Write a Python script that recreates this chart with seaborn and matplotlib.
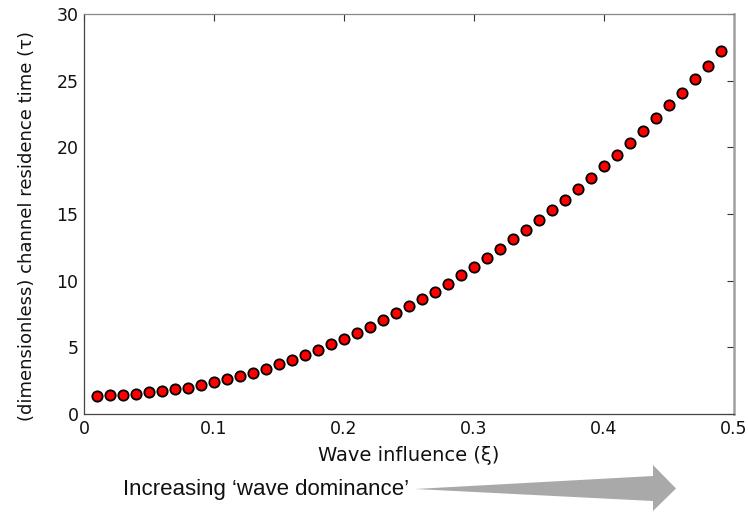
import numpy as np
import pandas as pd
import matplotlib
matplotlib.use("Agg")
import matplotlib.pyplot as plt
from matplotlib.patches import Polygon
import seaborn as sns

# wave influence (xi) and dimensionless channel residence time (tau)
xi = [0.01, 0.02, 0.03, 0.04, 0.05, 0.06, 0.07, 0.08, 0.09, 0.10,
      0.11, 0.12, 0.13, 0.14, 0.15, 0.16, 0.17, 0.18, 0.19, 0.20,
      0.21, 0.22, 0.23, 0.24, 0.25, 0.26, 0.27, 0.28, 0.29, 0.30,
      0.31, 0.32, 0.33, 0.34, 0.35, 0.36, 0.37, 0.38, 0.39, 0.40,
      0.41, 0.42, 0.43, 0.44, 0.45, 0.46, 0.47, 0.48, 0.49]
tau = [1.35, 1.40, 1.45, 1.52, 1.62, 1.72, 1.85, 1.98, 2.15, 2.38,
       2.60, 2.85, 3.10, 3.40, 3.72, 4.08, 4.45, 4.83, 5.22, 5.65,
       6.10, 6.55, 7.03, 7.55, 8.08, 8.60, 9.17, 9.77, 10.40, 11.05,
       11.70, 12.40, 13.10, 13.80, 14.55, 15.30, 16.05, 16.90, 17.70, 18.58,
       19.40, 20.30, 21.25, 22.20, 23.15, 24.10, 25.10, 26.10, 27.20]

x_ticks = [0, 0.1, 0.2, 0.3, 0.4, 0.5]
x_ticklabels = ["0", "0.1", "0.2", "0.3", "0.4", "0.5"]
y_ticks = [0, 5, 10, 15, 20, 25, 30]

df = pd.DataFrame({"xi": xi, "tau": tau})

sns.set_style("white")
plt.rcParams["font.family"] = ["DejaVu Sans"]

W, H = 748, 515
fig = plt.figure(figsize=(W / 100, H / 100), dpi=100)
ax = fig.add_axes([84 / W, 1 - 414 / H, 650 / W, 400 / H])

sns.scatterplot(data=df, x="xi", y="tau", ax=ax, s=55, color="#ff0000",
                edgecolor="black", linewidth=1.3, zorder=3)

ax.set_xlim(0, 0.5)
ax.set_ylim(0, 30)
ax.set_xticks(x_ticks)
ax.set_xticklabels(x_ticklabels)
ax.set_yticks(y_ticks)
ax.tick_params(direction="in", length=5, width=0.8, top=True, right=True,
               labelsize=12.5, colors="#333333", labelcolor="#111111", pad=4)
for side in ["left", "bottom"]:
    ax.spines[side].set_color("#444444")
    ax.spines[side].set_linewidth(0.9)
ax.spines["top"].set_color("#888888")
ax.spines["top"].set_linewidth(0.9)
ax.spines["right"].set_color("#a0a0a0")
ax.spines["right"].set_linewidth(1.8)

ax.set_xlabel("Wave influence (ξ)", fontsize=14, color="#111111")
ax.set_ylabel("(dimensionless) channel residence time (τ)", fontsize=13, color="#111111")
ax.xaxis.set_label_coords(0.5, -0.08)
ax.yaxis.set_label_coords(-0.074, 0.47)

# annotation below the axis: text plus a tapering grey arrow
fig.text(123 / W, 1 - 489 / H, "Increasing \u2018wave dominance\u2019",
         fontsize=16, family="Liberation Sans", va="center", ha="left",
         color="#111111")
pts = [(415, 489), (653, 476), (653, 465), (676, 488.5), (653, 511), (653, 501)]
arrow = Polygon([(px / W, 1 - py / H) for px, py in pts], closed=True,
                transform=fig.transFigure, facecolor="#a9a9a9", edgecolor="none")
fig.patches.append(arrow)

fig.savefig("out.png", dpi=100)
